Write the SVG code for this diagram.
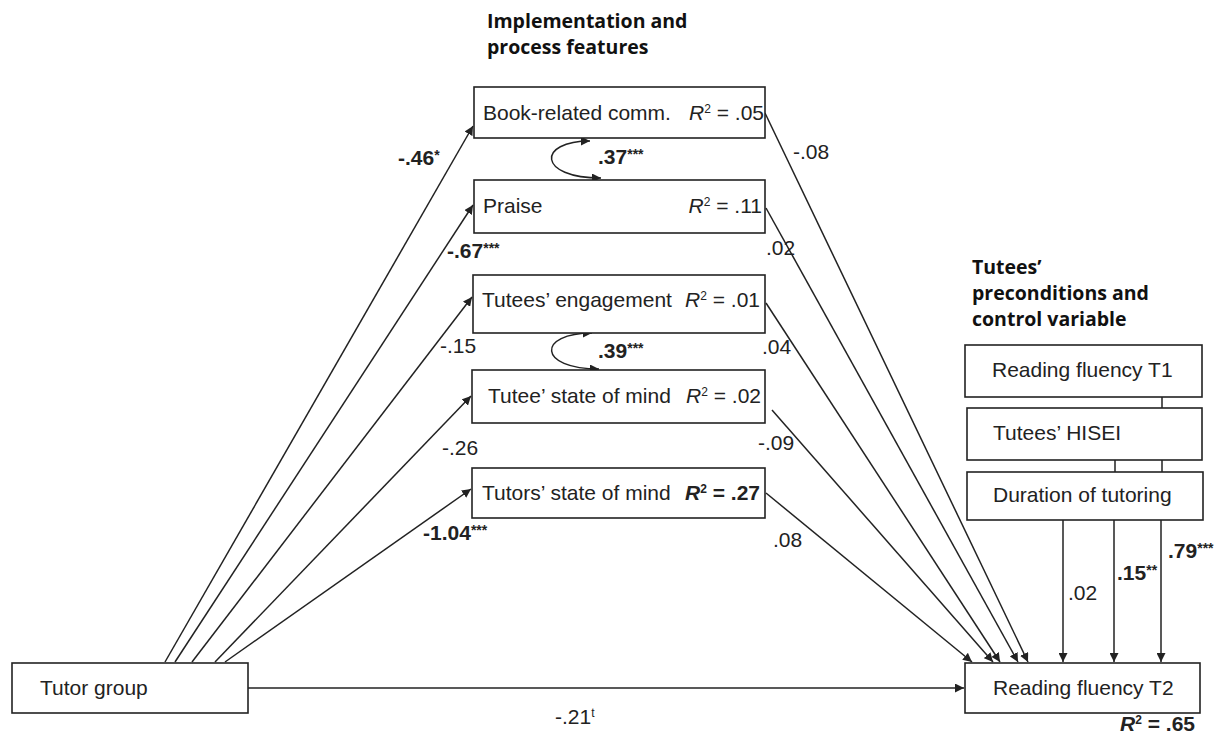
<svg xmlns="http://www.w3.org/2000/svg" width="1231" height="735" viewBox="0 0 1231 735">
<style>
.box{fill:#fff;stroke:#222;stroke-width:1.6}
.t{font-family:"Liberation Sans",Arial,sans-serif;font-size:21px;fill:#222}
.b{font-weight:bold}
.h{font-family:"Open Sans","Noto Sans",sans-serif;font-size:19.5px;font-weight:bold;fill:#111}
.c{fill:none;stroke:#222;stroke-width:1.5}
.a{marker-end:url(#ah)}
</style>
<defs>
<marker id="ah" viewBox="0 0 10 10" refX="10" refY="5" markerWidth="9" markerHeight="9" markerUnits="userSpaceOnUse" orient="auto-start-reverse">
<path d="M0,0 L10,5 L0,10 Z" fill="#222"/>
</marker>
</defs>
<rect width="1231" height="735" fill="#fff"/>

<text class="h" x="487" y="28">Implementation and</text>
<text class="h" x="487" y="54">process features</text>
<text class="h" x="972" y="274">Tutees’</text>
<text class="h" x="972" y="300">preconditions and</text>
<text class="h" x="972" y="326">control variable</text>

<g id="connectors">
<line class="c a" x1="165" y1="662" x2="473" y2="126"/>
<line class="c a" x1="175" y1="662" x2="473" y2="205"/>
<line class="c a" x1="192" y1="662" x2="472" y2="297"/>
<line class="c a" x1="215" y1="662" x2="471" y2="396"/>
<line class="c a" x1="225" y1="662" x2="471" y2="489"/>
<line class="c a" x1="248" y1="688" x2="964" y2="688"/>
<line class="c a" x1="765" y1="113" x2="1028" y2="662"/>
<line class="c a" x1="766" y1="208" x2="1018" y2="662"/>
<line class="c a" x1="766" y1="303" x2="1000" y2="662"/>
<line class="c a" x1="772" y1="410" x2="993" y2="662"/>
<line class="c a" x1="766" y1="493" x2="972" y2="662"/>
<line class="c" x1="1162" y1="397" x2="1162" y2="408"/>
<line class="c" x1="1115" y1="460" x2="1115" y2="472"/>
<line class="c" x1="1162" y1="460" x2="1162" y2="472"/>
<line class="c a" x1="1063" y1="520" x2="1063" y2="662"/>
<line class="c a" x1="1114" y1="520" x2="1114" y2="662"/>
<line class="c a" x1="1161" y1="520" x2="1161" y2="662"/>
<path class="c a" style="marker-start:url(#ah)" d="M590,141 C537,141 537,178 601,178"/>
<path class="c a" style="marker-start:url(#ah)" d="M592,333 C537,333 537,369 599,369"/>
</g>

<g id="labels">
<text class="t b" x="398" y="165">-.46<tspan dy="-5" font-size="14">*</tspan></text>
<text class="t b" x="447" y="258">-.67<tspan dy="-5" font-size="14">***</tspan></text>
<text class="t" x="440" y="353">-.15</text>
<text class="t" x="442" y="455">-.26</text>
<text class="t b" x="423" y="540">-1.04<tspan dy="-5" font-size="14">***</tspan></text>
<text class="t b" x="598" y="164">.37<tspan dy="-5" font-size="14">***</tspan></text>
<text class="t b" x="598" y="358">.39<tspan dy="-5" font-size="14">***</tspan></text>
<text class="t" x="793" y="159">-.08</text>
<text class="t" x="766" y="255">.02</text>
<text class="t" x="762" y="354">.04</text>
<text class="t" x="758" y="450">-.09</text>
<text class="t" x="773" y="547">.08</text>
<text class="t" x="1068" y="600">.02</text>
<text class="t b" x="1117" y="580">.15<tspan dy="-5" font-size="14">**</tspan></text>
<text class="t b" x="1168" y="558">.79<tspan dy="-5" font-size="14">***</tspan></text>
<text class="t" x="555" y="724">-.21<tspan dy="-7" font-size="12">t</tspan></text>
<text class="t b" x="1195" y="731" text-anchor="end"><tspan font-style="italic">R</tspan><tspan dy="-7" font-size="12">2</tspan><tspan dy="7"> = .65</tspan></text>
</g>

<g id="tutor-group"><rect class="box" x="12" y="663" width="236" height="50"/><text class="t" x="40" y="695">Tutor group</text></g>

<g id="book"><rect class="box" x="474" y="87" width="291" height="51"/><text class="t" x="483" y="120">Book-related comm.</text>
<text class="t" x="764" y="120" text-anchor="end"><tspan font-style="italic">R</tspan><tspan dy="-7" font-size="12">2</tspan><tspan dy="7"> = .05</tspan></text></g>

<g id="praise"><rect class="box" x="474" y="180" width="291" height="53"/><text class="t" x="483" y="213">Praise</text>
<text class="t" x="762" y="213" text-anchor="end"><tspan font-style="italic">R</tspan><tspan dy="-7" font-size="12">2</tspan><tspan dy="7"> = .11</tspan></text></g>

<g id="engagement"><rect class="box" x="473" y="275" width="292" height="58"/><text class="t" x="482" y="307">Tutees’ engagement</text>
<text class="t" x="760" y="307" text-anchor="end"><tspan font-style="italic">R</tspan><tspan dy="-7" font-size="12">2</tspan><tspan dy="7"> = .01</tspan></text></g>

<g id="tutee-mind"><rect class="box" x="472" y="370" width="293" height="53"/><text class="t" x="488" y="403">Tutee’ state of mind</text>
<text class="t" x="761" y="403" text-anchor="end"><tspan font-style="italic">R</tspan><tspan dy="-7" font-size="12">2</tspan><tspan dy="7"> = .02</tspan></text></g>

<g id="tutors-mind"><rect class="box" x="472" y="468" width="293" height="50"/><text class="t" x="482" y="500">Tutors’ state of mind</text>
<text class="t b" x="760" y="500" text-anchor="end"><tspan font-style="italic">R</tspan><tspan dy="-7" font-size="12">2</tspan><tspan dy="7"> = .27</tspan></text></g>

<g id="rf-t1"><rect class="box" x="965" y="345" width="237" height="52"/><text class="t" x="992" y="377">Reading fluency T1</text></g>
<g id="hisei"><rect class="box" x="967" y="408" width="235" height="52"/><text class="t" x="993" y="440">Tutees’ HISEI</text></g>
<g id="duration"><rect class="box" x="967" y="472" width="236" height="48"/><text class="t" x="993" y="502">Duration of tutoring</text></g>
<g id="rf-t2"><rect class="box" x="965" y="663" width="235" height="50"/><text class="t" x="993" y="695">Reading fluency T2</text></g>
</svg>
